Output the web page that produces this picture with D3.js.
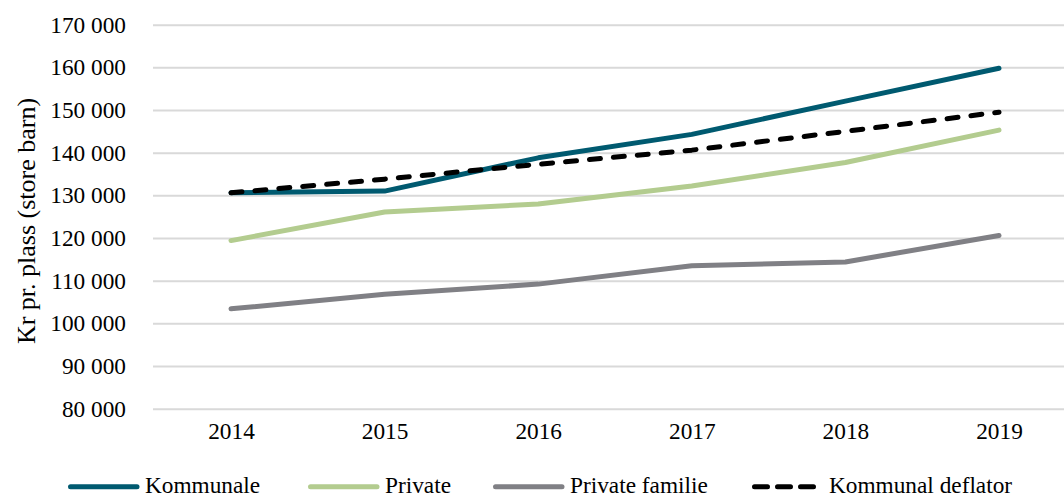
<!DOCTYPE html>
<html><head><meta charset="utf-8">
<script src="https://cdn.jsdelivr.net/npm/d3@7"></script>
<style>body{margin:0;background:#fff}svg{display:block}text{font-family:'Liberation Serif','Times New Roman',serif}</style>
</head><body>
<svg id="chart" width="1064" height="498"></svg>
<script>
const years = ["2014","2015","2016","2017","2018","2019"];
const kommunale = [130600,131000,138800,144300,152100,159800];
const privat = [119400,126100,128000,132200,137700,145300];
const privatFamilie = [103400,106800,109200,113500,114400,120600];
const deflator = [130600,133800,137300,140600,145000,149500];
const yTicks = [80000,90000,100000,110000,120000,130000,140000,150000,160000,170000];
const seriesNames = ["Kommunale","Private","Private familie","Kommunal deflator"];
const seriesColors = ["#005A70","#B3CC8F","#808085","#000000"];

const font = "'Liberation Serif','Times New Roman',serif";
const svg = d3.select("#chart");
const x = d3.scalePoint().domain(years).range([231,999]);
const y = d3.scaleLinear().domain([80000,170000]).range([408.7,24.7]);
const fmt = v => d3.format(",")(v).replace(/,/g," ");

// grid
const gy = svg.append("g").attr("transform","translate(153,0)")
  .call(d3.axisLeft(y).tickValues(yTicks).tickSize(-923).tickFormat(fmt).tickPadding(27));
gy.attr("font-family",font);
gy.select(".domain").remove();
gy.selectAll(".tick line").attr("stroke","#D9D9D9").attr("stroke-width",2);
gy.selectAll(".tick text").style("font-family",font).attr("font-size",23.3).attr("fill","#000");

const gx = svg.append("g").attr("transform","translate(0,408.7)")
  .call(d3.axisBottom(x).tickSize(0).tickPadding(14));
gx.attr("font-family",font);
gx.select(".domain").remove();
gx.selectAll(".tick text").style("font-family",font).attr("font-size",23.3).attr("fill","#000");

svg.append("text").attr("transform","translate(35,221) rotate(-90)")
  .attr("text-anchor","middle").style("font-family",font).attr("font-size",26)
  .text("Kr pr. plass (store barn)");

const data = [kommunale, privat, privatFamilie, deflator];
const line = d3.line().x((d,i)=>x(years[i])).y(d=>y(d));
data.forEach((s,k)=>{
  svg.append("path").datum(s).attr("d",line).attr("fill","none")
    .attr("stroke",seriesColors[k]).attr("stroke-width",5)
    .attr("stroke-linecap","round").attr("stroke-linejoin","round")
    .attr("stroke-dasharray", k===3 ? "11,13" : null);
});

// legend
const legX = [68,308,493,752];
const lg = svg.append("g");
seriesNames.forEach((n,k)=>{
  lg.append("line").attr("x1",legX[k]+2.5).attr("x2",legX[k]+(k===3?62:69)).attr("y1",486.7).attr("y2",486.7)
    .attr("stroke",seriesColors[k]).attr("stroke-width",5).attr("stroke-linecap","round")
    .attr("stroke-dasharray", k===3 ? "13,10" : null);
  lg.append("text").attr("x",legX[k]+77).attr("y",493).style("font-family",font)
    .attr("font-size",23.3).text(n);
});
</script>
</body></html>
